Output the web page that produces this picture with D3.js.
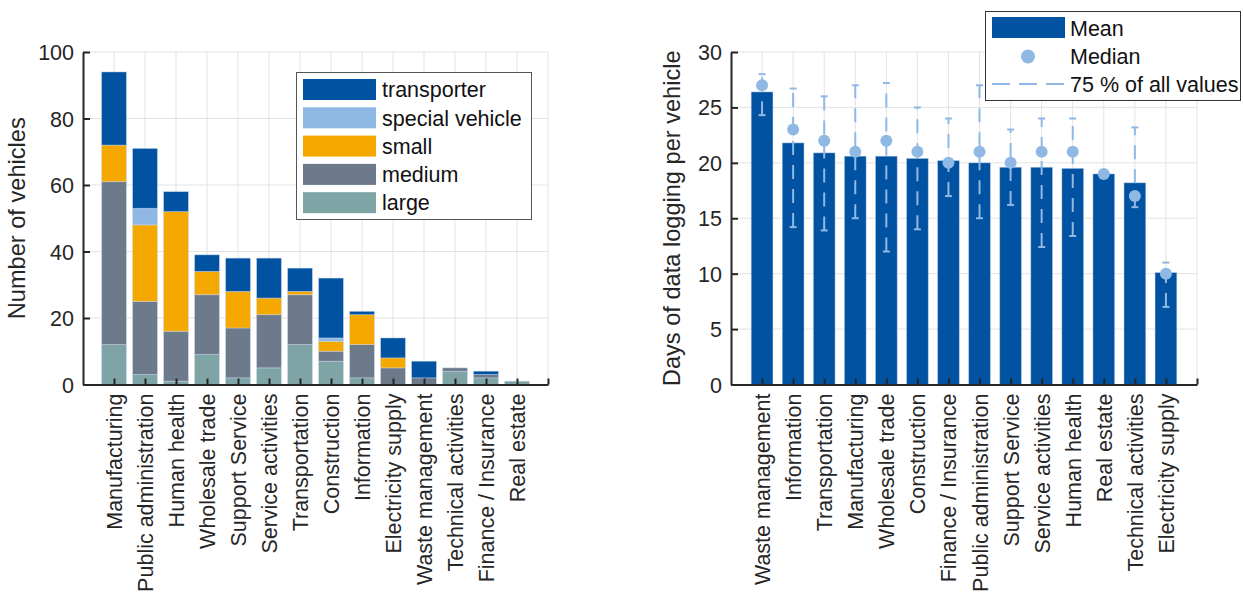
<!DOCTYPE html>
<html><head><meta charset="utf-8">
<script src="https://cdn.jsdelivr.net/npm/d3@7"></script>
<style>
body{margin:0;background:#fff;}
svg{font-family:"Liberation Sans",Arial,sans-serif;}
</style></head>
<body><svg id="c" width="1243" height="593"></svg>
<script>
// ---------- Left chart data ----------
const categoriesLeft = ["Manufacturing","Public administration","Human health","Wholesale trade","Support Service","Service activities","Transportation","Construction","Information","Electricity supply","Waste management","Technical activities","Finance / Insurance","Real estate"];
const large       = [12, 3, 1, 9, 2, 5,12, 7, 2, 0, 0, 4, 2, 1];
const medium      = [49,22,15,18,15,16,15, 3,10, 5, 2, 1, 1, 0];
const small       = [11,23,36, 7,11, 5, 1, 3, 9, 3, 0, 0, 0, 0];
const special     = [ 0, 5, 0, 0, 0, 0, 0, 1, 0, 0, 0, 0, 0, 0];
const transporter = [22,18, 6, 5,10,12, 7,18, 1, 6, 5, 0, 1, 0];
const seriesKeys = ["large","medium","small","special vehicle","transporter"];
const leftTicks = [0,20,40,60,80,100];

// ---------- Right chart data ----------
const categoriesRight = ["Waste management","Information","Transportation","Manufacturing","Wholesale trade","Construction","Finance / Insurance","Public administration","Support Service","Service activities","Human health","Real estate","Technical activities","Electricity supply"];
const meanDays   = [26.4,21.8,20.9,20.6,20.6,20.4,20.2,20.0,19.6,19.6,19.5,19.0,18.2,10.1];
const medianDays = [27,23,22,21,22,21,20,21,20,21,21,19,17,10];
const lower75    = [24.3,14.2,13.9,15,12.0,14,17,15,16.2,12.4,13.4,19,16,7];
const upper75    = [28,26.7,26,27,27.2,25,24,27,23,24,24,19,23.2,11];
const rightTicks = [0,5,10,15,20,25,30];

const colors = {"transporter":"#0152a0","special vehicle":"#8fb8e4","small":"#f5a800","medium":"#6c7a8b","large":"#7ea4a6"};
const lightBlue = "#8fb8e4";
const axisCol = "#262626";
const gridCol = "#e3e3e3";
const FS = 21.5, LFS = 23.6;

const svg = d3.select("#c");

function drawFrame(g, x, y, cats, yTicks, n){
  g.append("g").selectAll("line.h").data(yTicks).join("line")
    .attr("x1",x(0)).attr("x2",x(n+1)).attr("y1",d=>y(d)).attr("y2",d=>y(d))
    .attr("stroke",gridCol).attr("stroke-width",1);
  g.append("g").selectAll("line.v").data(d3.range(1,n+2)).join("line")
    .attr("x1",d=>x(d)).attr("x2",d=>x(d)).attr("y1",y.range()[0]).attr("y2",y.range()[1])
    .attr("stroke",gridCol).attr("stroke-width",1);
}
function drawAxes(g, x, y, cats, yTicks, n){
  const ya = g.append("g").attr("transform",`translate(${x(0)},0)`)
    .call(d3.axisLeft(y).tickValues(yTicks).tickSize(-7).tickPadding(9).tickSizeOuter(0));
  ya.select(".domain").attr("stroke",axisCol).attr("stroke-width",2);
  ya.selectAll(".tick line").attr("stroke",axisCol).attr("stroke-width",2);
  ya.selectAll("text").attr("fill",axisCol).style("font-size",FS+"px").attr("dy","0.35em");
  const xa = g.append("g").attr("transform",`translate(0,${y(0)})`)
    .call(d3.axisBottom(x).tickValues(d3.range(1,n+2)).tickSize(-6).tickSizeOuter(0)
      .tickFormat(d=> d<=n ? cats[d-1] : ""));
  xa.select(".domain").attr("stroke",axisCol).attr("stroke-width",2);
  xa.selectAll(".tick line").attr("stroke",axisCol).attr("stroke-width",2);
  xa.selectAll("text").attr("fill",axisCol).style("font-size",FS+"px")
    .attr("transform","rotate(-90)").attr("x",-9).attr("y",0).attr("dy","0.35em")
    .style("text-anchor","end");
}

// ---------- Left chart ----------
{
  const n = categoriesLeft.length;
  const x = d3.scaleLinear().domain([0,n+1]).range([83,548]);
  const y = d3.scaleLinear().domain([0,100]).range([384.5,52]);
  const g = svg.append("g");
  drawFrame(g,x,y,categoriesLeft,leftTicks,n);
  const rows = categoriesLeft.map((c,i)=>({idx:i+1,"large":large[i],"medium":medium[i],"small":small[i],"special vehicle":special[i],"transporter":transporter[i]}));
  const stacked = d3.stack().keys(seriesKeys)(rows);
  const bw = (x(1)-x(0))*0.8;
  g.append("g").selectAll("g").data(stacked).join("g").attr("fill",d=>colors[d.key])
    .selectAll("rect").data(d=>d.filter(s=>s[1]-s[0]>0)).join("rect")
      .attr("x",d=>x(d.data.idx)-bw/2).attr("width",bw)
      .attr("y",d=>y(d[1])).attr("height",d=>y(d[0])-y(d[1]))
      .attr("stroke","rgba(200,215,235,0.55)").attr("stroke-width",0.8);
  drawAxes(g,x,y,categoriesLeft,leftTicks,n);
  g.append("text").attr("transform",`translate(25,${(y(0)+y(100))/2}) rotate(-90)`)
    .attr("text-anchor","middle").style("font-size",LFS+"px").attr("fill",axisCol)
    .text("Number of vehicles");
  const lg = g.append("g");
  lg.append("rect").attr("x",296.5).attr("y",72.5).attr("width",235).attr("height",147)
    .attr("fill","#fff").attr("stroke","#555").attr("stroke-width",1);
  const legKeys = ["transporter","special vehicle","small","medium","large"];
  legKeys.forEach((k,i)=>{
    const cy = 89.5 + i*28.3;
    lg.append("rect").attr("x",303).attr("y",cy-10.5).attr("width",73).attr("height",21).attr("fill",colors[k]);
    lg.append("text").attr("x",382).attr("y",cy).attr("dy","0.36em").style("font-size",FS+"px").attr("fill","#111").text(k);
  });
}

// ---------- Right chart ----------
{
  const n = categoriesRight.length;
  const x = d3.scaleLinear().domain([0,n+1]).range([731,1197]);
  const y = d3.scaleLinear().domain([0,30]).range([384.5,52]);
  const g = svg.append("g");
  drawFrame(g,x,y,categoriesRight,rightTicks,n);
  const bw = (x(1)-x(0))*0.7;
  g.append("g").selectAll("rect").data(meanDays).join("rect")
    .attr("x",(d,i)=>x(i+1)-bw/2).attr("width",bw)
    .attr("y",d=>y(d)).attr("height",d=>y(0)-y(d))
    .attr("fill","#0152a0").attr("stroke","rgba(200,215,235,0.55)").attr("stroke-width",0.8);
  const eb = g.append("g").attr("stroke",lightBlue).attr("stroke-width",2);
  categoriesRight.forEach((c,i)=>{
    if (upper75[i]-lower75[i] <= 0) return;
    const cx = x(i+1);
    eb.append("line").attr("x1",cx).attr("x2",cx).attr("y1",y(lower75[i])).attr("y2",y(upper75[i]))
      .attr("stroke-dasharray","14,10");
    eb.append("line").attr("x1",cx-3.5).attr("x2",cx+3.5).attr("y1",y(lower75[i])).attr("y2",y(lower75[i]));
    eb.append("line").attr("x1",cx-3.5).attr("x2",cx+3.5).attr("y1",y(upper75[i])).attr("y2",y(upper75[i]));
  });
  g.append("g").selectAll("circle").data(medianDays).join("circle")
    .attr("cx",(d,i)=>x(i+1)).attr("cy",d=>y(d)).attr("r",6).attr("fill",lightBlue);
  drawAxes(g,x,y,categoriesRight,rightTicks,n);
  g.append("text").attr("transform",`translate(680,${(y(0)+y(30))/2}) rotate(-90)`)
    .attr("text-anchor","middle").style("font-size",LFS+"px").attr("fill",axisCol)
    .text("Days of data logging per vehicle");
  const lg = g.append("g");
  lg.append("rect").attr("x",985.5).attr("y",11.5).attr("width",255).attr("height",89)
    .attr("fill","#fff").attr("stroke","#333").attr("stroke-width",1);
  lg.append("rect").attr("x",992).attr("y",17).attr("width",73).attr("height",21).attr("fill","#0152a0");
  lg.append("circle").attr("cx",1028).attr("cy",56.5).attr("r",7).attr("fill",lightBlue);
  lg.append("line").attr("x1",992).attr("x2",1065).attr("y1",84).attr("y2",84)
    .attr("stroke",lightBlue).attr("stroke-width",2).attr("stroke-dasharray","18,9");
  [["Mean",28],["Median",56],["75 % of all values",84]].forEach(([t,cy])=>{
    lg.append("text").attr("x",1070).attr("y",cy).attr("dy","0.36em").style("font-size",FS+"px").attr("fill","#111").text(t);
  });
}
</script></body></html>
